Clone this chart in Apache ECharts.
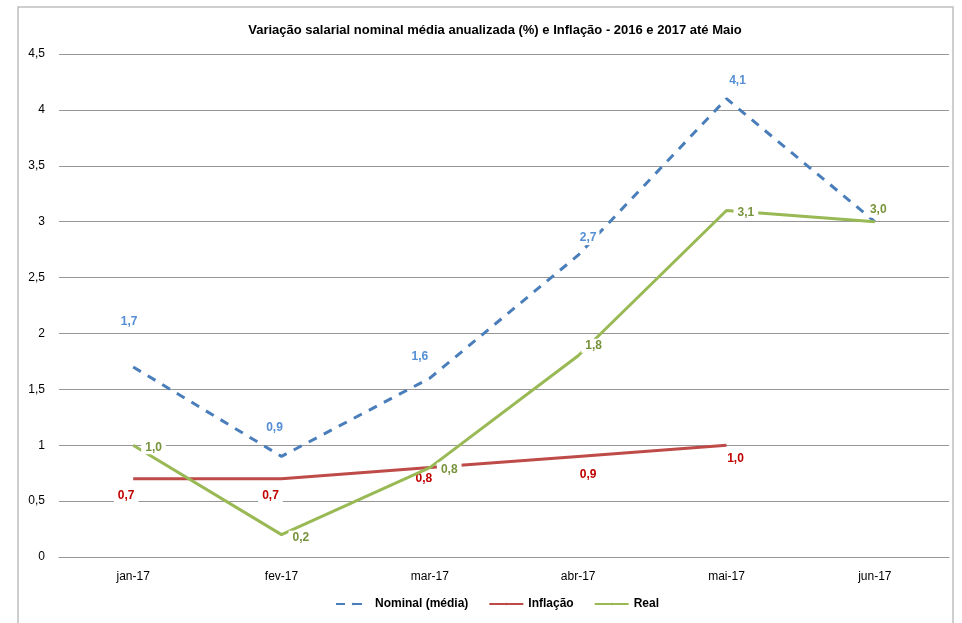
<!DOCTYPE html>
<html>
<head>
<meta charset="utf-8">
<script src="https://cdn.jsdelivr.net/npm/echarts@6/dist/echarts.min.js"></script>
<style>
  html, body { margin: 0; padding: 0; background: #fff; }
  #chart { width: 962px; height: 623px; }
</style>
</head>
<body>
<div id="chart"></div>
<script>
// dados
const meses = ['jan-17', 'fev-17', 'mar-17', 'abr-17', 'mai-17', 'jun-17'];
const nominal = [1.7, 0.9, 1.6, 2.7, 4.1, 3.0];
const inflacao = [0.7, 0.7, 0.8, 0.9, 1.0, null];
const real = [1.0, 0.2, 0.8, 1.8, 3.1, 3.0];

// ajuste fino da posição dos rótulos (como no Excel)
const deslocNominal = [[-4, -20], [-7, -4], [-10, 4], [10, 8], [11, 7], [6, 14]];
const deslocInflacao = [[-7, 0], [-11, 0], [-6, -6], [10, 1], [9, -4], [0, 0]];
const deslocReal = [[2, 2], [1, 3], [1, 2], [-3, -10], [1, 2], [-15, -12]];

const FONT = "'Liberation Sans Narrow', 'Liberation Sans', sans-serif";
const fmt = (p) => p.value == null ? '' : p.value.toFixed(1).replace('.', ',');

const labelBase = {
  show: true,
  formatter: fmt,
  fontSize: 12,
  fontWeight: 'bold',
  fontFamily: FONT,
  backgroundColor: '#fff',
  padding: [1, 3],
};

function comRotulos(valores, desloc) {
  return valores.map((v, i) => ({ value: v, label: { offset: desloc[i] } }));
}

const chart = echarts.init(document.getElementById('chart'));
chart.setOption({
  animation: false,
  textStyle: { fontFamily: FONT },
  title: {
    text: 'Variação salarial nominal média anualizada (%) e Inflação - 2016 e 2017 até Maio',
    left: 490,
    textAlign: 'center',
    top: 19,
    textStyle: { fontSize: 13, fontWeight: 'bold', color: '#000', fontFamily: FONT },
  },
  graphic: [
    {
      type: 'rect',
      shape: { x: 18, y: 7, width: 935, height: 630 },
      style: { fill: 'none', stroke: '#bfbfbf', lineWidth: 1.5 },
      silent: true,
    },
  ],
  legend: {
    bottom: 8,
    left: 330,
    itemWidth: 34,
    itemHeight: 3,
    itemGap: 20,
    textStyle: { fontSize: 12, fontWeight: 'bold', color: '#000', fontFamily: FONT },
    data: ['Nominal (média)', 'Inflação', 'Real'],
  },
  grid: { left: 59, right: 13, top: 54, bottom: 66 },
  xAxis: {
    type: 'category',
    data: meses,
    boundaryGap: true,
    axisLine: { lineStyle: { color: '#969696', width: 1 } },
    axisTick: { show: false },
    axisLabel: { margin: 14, fontSize: 12, color: '#000', fontFamily: FONT },
  },
  yAxis: {
    type: 'value',
    min: 0,
    max: 4.5,
    interval: 0.5,
    axisLine: { show: false },
    axisTick: { show: false },
    splitLine: { lineStyle: { color: '#969696', width: 1 } },
    axisLabel: {
      margin: 14,
      fontSize: 12,
      color: '#000',
      fontFamily: FONT,
      formatter: (v) => String(v).replace('.', ','),
    },
  },
  series: [
    {
      name: 'Nominal (média)',
      type: 'line',
      data: comRotulos(nominal, deslocNominal),
      symbol: 'circle',
      symbolSize: 0.1,
      legendIcon: 'path://M0,0 H12 V3 H0 Z M20,0 H32 V3 H20 Z',
      z: 3,
      lineStyle: { color: '#4a7ebb', width: 3, type: [9, 8] },
      itemStyle: { color: '#4a7ebb' },
      label: { ...labelBase, position: 'top', distance: 18, color: '#558ed5' },
    },
    {
      name: 'Inflação',
      type: 'line',
      data: comRotulos(inflacao, deslocInflacao),
      symbol: 'circle',
      symbolSize: 0.1,
      legendIcon: 'rect',
      z: 4,
      lineStyle: { color: '#be4b48', width: 3 },
      itemStyle: { color: '#be4b48' },
      label: { ...labelBase, position: 'bottom', distance: 10, color: '#c00000', padding: [1, 4] },
    },
    {
      name: 'Real',
      type: 'line',
      data: comRotulos(real, deslocReal),
      symbol: 'circle',
      symbolSize: 0.1,
      legendIcon: 'rect',
      z: 5,
      lineStyle: { color: '#98b954', width: 3 },
      itemStyle: { color: '#98b954' },
      label: { ...labelBase, position: 'right', distance: 6, color: '#77933c', padding: [1, 4] },
    },
  ],
});
</script>
</body>
</html>
